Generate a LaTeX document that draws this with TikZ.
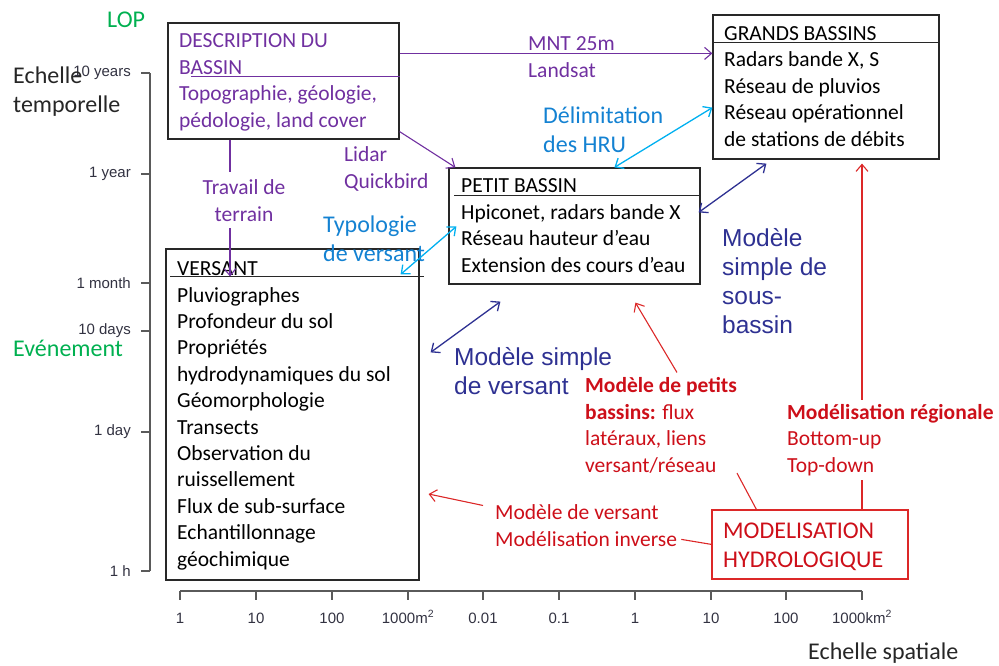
\documentclass[tikz,border=0pt]{standalone}
\usepackage{fontspec}
\setmainfont{Carlito}
\newfontfamily\arialf{Liberation Sans}
\usetikzlibrary{arrows.meta,calc}
\definecolor{purp}{RGB}{112,48,160}
\definecolor{cyanarr}{RGB}{0,176,240}
\definecolor{cyantxt}{RGB}{20,130,210}
\definecolor{navyb}{RGB}{46,49,146}
\definecolor{redd}{RGB}{205,15,25}
\definecolor{redarr}{RGB}{220,40,40}
\definecolor{grn}{RGB}{0,176,80}
\definecolor{axisg}{RGB}{90,90,90}
\definecolor{axist}{RGB}{50,50,65}
\definecolor{boxb}{RGB}{40,40,40}
\begin{document}
\begin{tikzpicture}[x=1pt,y=-1pt,
  box/.style={draw=boxb, line width=1.2pt, rectangle, inner sep=0pt},
  lbl/.style={inner sep=0pt, anchor=base west, align=left, font=\fontsize{21.5}{26.4}\selectfont},
  lblb/.style={inner sep=0pt, anchor=base west, align=left, font=\fontsize{24}{29}\selectfont},
  navyl/.style={inner sep=0pt, anchor=base west, align=left, text=navyb, font=\arialf\fontsize{24.5}{29}\selectfont},
  ticklbl/.style={inner sep=0pt, text=axist, font=\arialf\fontsize{15}{18}\selectfont},
  arr/.style={-{Straight Barb[length=7pt,width=12pt]}, line width=1.1pt},
  darr/.style={{Straight Barb[length=7pt,width=12pt]}-{Straight Barb[length=7pt,width=12pt]}, line width=1.3pt},
  rline/.style={redarr, line width=1.1pt}
]
\useasboundingbox (0,0) rectangle (999,665);

% ---------- axes ----------
\draw[axisg, line width=1.3pt] (150,73) -- (150,571);
\foreach \yy/\tt/\nn in {73/10 years/a, 174/1 year/b, 283/1 month/c, 331/10 days/d, 432/1 day/e, 571/1 h/f}{
  \draw[axisg, line width=1.3pt] (141,\yy) -- (150,\yy);
  \node[ticklbl, anchor=east] (yl\nn) at (131,\yy) {\tt};
}
\draw[axisg, line width=1.3pt] (180,591) -- (862,591);
\foreach \xx/\tt/\nn in {180/1/a, 256/10/b, 332/100/c, 408/1000m\textsuperscript{2}/d, 483/0.01/e, 559/0.1/f, 635/1/g, 711/10/h, 786/100/i, 862/1000km\textsuperscript{2}/j}{
  \draw[axisg, line width=1.3pt] (\xx,591) -- (\xx,600);
  \node[ticklbl, anchor=base] (xl\nn) at (\xx,623) {\tt};
}

% ---------- axis titles ----------
\node[lblb, text=black!85] (echt) at (13,112) {Echelle\\temporelle};
\node[lblb, text=black!85] (echs) at (808,659) {Echelle spatiale};
\node[lblb, text=grn] (lop) at (107,27) {LOP};
\node[lblb, text=grn] (evt) at (13,356) {Evénement};

% ---------- boxes ----------
\node[box, minimum width=231pt, minimum height=116pt] (desc) at (283.5,81) {};
\node[box, minimum width=226pt, minimum height=144pt] (grands) at (826,87) {};
\node[box, minimum width=251pt, minimum height=116pt] (petit) at (574.5,226) {};
\node[box, minimum width=253pt, minimum height=331pt] (versant) at (292.5,414.5) {};
\node[draw=redarr, line width=1.2pt, rectangle, inner sep=0pt, minimum width=196pt, minimum height=69pt] (modhyd) at (810,544.5) {};

% header lines
\draw[purp, line width=1pt] ($(desc.north west)+(24,54)$) -- ($(desc.north east)+(0,54)$);
\draw[boxb, line width=1.2pt] ($(grands.north west)+(0,28)$) -- ($(grands.north east)+(0,28)$);
\draw[boxb, line width=1.2pt] ($(petit.north west)+(6,28)$) -- ($(petit.north east)+(0,28)$);
\draw[boxb, line width=1.2pt] ($(versant.north west)+(5,28)$) -- ($(versant.north east)+(4,28)$);

% box texts (anchor = baseline of the last line)
\node[lbl, text=purp] (desct) at (179,127) {DESCRIPTION DU\\BASSIN\\Topographie, géologie,\\pédologie, land cover};
\node[lbl] (grandst) at (724,146) {GRANDS BASSINS\\Radars bande X, S\\Réseau de pluvios\\Réseau opérationnel\\de stations de débits};
\node[lbl] (petitt) at (461,272) {PETIT BASSIN\\Hpiconet, radars bande X\\Réseau hauteur d’eau\\Extension des cours d’eau};
\node[lbl] (versantt) at (177,566) {VERSANT\\Pluviographes\\Profondeur du sol\\Propriétés\\hydrodynamiques du sol\\Géomorphologie\\Transects\\Observation du\\ruissellement\\Flux de sub-surface\\Echantillonnage\\géochimique};
\node[lblb, text=redd] (modhydt) at (723,567) {MODELISATION\\HYDROLOGIQUE};

% ---------- labels ----------
\node[lbl, text=purp] (mnt) at (528,77) {MNT 25m\\Landsat};
\node[lbl, text=purp] (lidar) at (344,188) {Lidar\\Quickbird};
\node[lbl, text=purp, align=center, anchor=base, inner ysep=7pt] (travail) at (244,221) {Travail de\\terrain};
\node[lblb, text=cyantxt] (delim) at (543,152) {Délimitation\\des HRU};
\node[lblb, text=cyantxt] (typo) at (323,261) {Typologie\\de versant};
\node[navyl] (msv) at (454,394) {Modèle simple\\de versant};
\node[navyl] (msb) at (722,333) {Modèle\\simple de\\sous-\\bassin};
\node[lbl, text=redd] (petits) at (585,472) {\textbf{Modèle de petits}\\\textbf{bassins:} flux\\latéraux, liens\\versant/réseau};
\node[lbl, text=redd, inner ysep=4pt] (regional) at (787,472) {\textbf{Modélisation régionale}\\Bottom-up\\Top-down};
\node[lbl, text=redd] (modver) at (495,546) {Modèle de versant\\Modélisation inverse};

% ---------- connectors ----------
\draw[arr, purp] ($(desc.north east)+(0,31)$) -- ($(grands.north west)+(0,39)$);
\draw[arr, purp] ($(desc.south east)+(0,-8)$) -- ($(petit.north west)+(7,0)$);
\coordinate (tvx) at (230,0);
\draw[purp, line width=1.1pt] (desc.south -| tvx) -- (travail.north -| tvx);
\draw[arr, purp] (travail.south -| tvx) -- ($(versant.north -| tvx)+(0,28)$);

\draw[darr, cyanarr] ($(petit.north west)+(166,0)$) -- ($(grands.south west)+(0,-52)$);
\draw[darr, cyanarr] ($(versant.north east)+(-19,26)$) -- ($(petit.north west)+(8,59)$);

\draw[darr, navyb] ($(petit.north east)+(-2,45)$) -- ($(grands.south west)+(54,4)$);
\draw[darr, navyb] ($(versant.north east)+(11,104)$) -- ($(petit.south west)+(52,17)$);

\draw[arr, redarr] ($(petits.north west)+(92,-5)$) -- ($(petit.south west)+(187,18)$);
\draw[rline] ($(modhyd.north west)+(45,0)$) -- ($(petits.south west)+(152,0)$);
\coordinate (rgx) at (862,0);
\draw[rline] (modhyd.north -| rgx) -- (regional.south -| rgx);
\draw[arr, redarr] (regional.north -| rgx) -- ($(grands.south -| rgx)+(0,4)$);
\draw[rline] ($(modhyd.north west)+(0,35)$) -- ($(modver.south east)+(4,-7)$);
\draw[arr, redarr] ($(modver.north west)+(-12,1)$) -- ($(versant.east)+(9,79.5)$);
\end{tikzpicture}
\end{document}
